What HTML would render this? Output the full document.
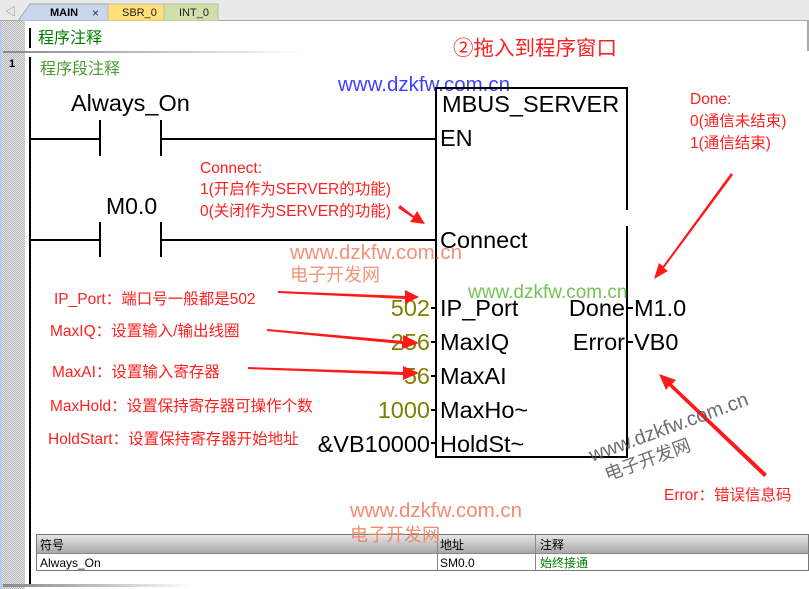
<!DOCTYPE html>
<html><head><meta charset="utf-8"><style>
html,body{margin:0;padding:0;background:#fff;}
svg{display:block;font-family:"Liberation Sans","Noto Sans CJK SC",sans-serif;}
</style></head><body>
<svg width="809" height="589" viewBox="0 0 809 589" xmlns="http://www.w3.org/2000/svg">
<defs>
<pattern id="hatch" width="2" height="2" patternUnits="userSpaceOnUse"><rect width="2" height="2" fill="#e4e4e4"/><rect width="1" height="1" fill="#b8b8b8"/><rect x="1" y="1" width="1" height="1" fill="#b8b8b8"/></pattern>
<linearGradient id="hdr" x1="0" y1="0" x2="0" y2="1"><stop offset="0" stop-color="#e8e8e8"/><stop offset="1" stop-color="#a8a8a8"/></linearGradient>
<linearGradient id="sep" x1="0" y1="0" x2="1" y2="0"><stop offset="0" stop-color="#888"/><stop offset="0.6" stop-color="#ccc"/><stop offset="1" stop-color="#fff"/></linearGradient>
</defs>
<rect x="0" y="0" width="809" height="21" fill="#e9e9e9"/>
<line x1="0" y1="20.5" x2="809" y2="20.5" stroke="#aaa"/>
<text x="5" y="15" font-size="11" fill="#888">◁</text>
<path d="M18 21 L30 4 L108 4 L108 21 Z" fill="#c9d6ee" stroke="#9aa"/>
<rect x="108" y="4" width="56" height="17" fill="#ffe07a" stroke="#bba"/>
<rect x="164" y="4" width="54" height="17" fill="#cfe0a8" stroke="#bba"/>
<text x="50" y="16" font-size="11" font-weight="bold" fill="#000">MAIN</text>
<text x="92" y="17" font-size="12" fill="#333">×</text>
<text x="122" y="16" font-size="11" fill="#222">SBR_0</text>
<text x="179" y="16" font-size="11" fill="#222">INT_0</text>
<rect x="0" y="21" width="25" height="568" fill="url(#hatch)"/>
<rect x="0" y="21" width="2" height="568" fill="#b8c8e8"/>
<rect x="25" y="21" width="784" height="568" fill="#fff"/>
<rect x="807" y="21" width="2" height="30" fill="#aaa"/>
<rect x="29" y="28" width="2" height="20" fill="#000"/>
<text x="38" y="43" font-size="16" fill="#008000">程序注释</text>
<rect x="3" y="51" width="300" height="2" fill="url(#sep)"/>
<text x="9" y="67" font-size="11" font-weight="bold" fill="#000">1</text>
<rect x="29" y="57" width="2" height="528" fill="#000"/>
<text x="40" y="74" font-size="16" fill="#4a9a30">程序段注释</text>
<rect x="3" y="584" width="190" height="3" fill="url(#sep)"/>
<text x="453" y="55" font-size="20.5" fill="#ff2020">②拖入到程序窗口</text>
<text x="338" y="91" font-size="20.5" fill="#4040ff">www.dzkfw.com.cn</text>
<text x="71" y="111" font-size="23.5" fill="#000">Always_On</text>
<line x1="30" y1="139" x2="100" y2="139" stroke="#000" stroke-width="2"/>
<line x1="100" y1="120" x2="100" y2="156" stroke="#000" stroke-width="2"/>
<line x1="161" y1="120" x2="161" y2="156" stroke="#000" stroke-width="2"/>
<line x1="161" y1="139" x2="436" y2="139" stroke="#000" stroke-width="2"/>
<text x="106" y="214" font-size="23" fill="#000">M0.0</text>
<line x1="30" y1="240" x2="100" y2="240" stroke="#000" stroke-width="2"/>
<line x1="100" y1="222" x2="100" y2="257" stroke="#000" stroke-width="2"/>
<line x1="161" y1="222" x2="161" y2="257" stroke="#000" stroke-width="2"/>
<line x1="161" y1="240" x2="436" y2="240" stroke="#000" stroke-width="2"/>
<path d="M627 210 L627 88 L436 88 L436 457 L627 457 L627 226" fill="none" stroke="#000" stroke-width="2"/>
<g font-size="23.5" fill="#000">
<text x="442" y="112">MBUS_SERVER</text>
<text x="440" y="146">EN</text>
<text x="440" y="248">Connect</text>
<text x="440" y="316">IP_Port</text>
<text x="440" y="350">MaxIQ</text>
<text x="440" y="384">MaxAI</text>
<text x="440" y="418">MaxHo~</text>
<text x="440" y="452">HoldSt~</text>
<text x="625" y="316" text-anchor="end">Done</text>
<text x="625" y="350" text-anchor="end">Error</text>
<text x="634" y="316">M1.0</text>
<text x="634" y="350">VB0</text>
</g>
<g stroke="#000" stroke-width="2">
<line x1="431" y1="308" x2="436" y2="308"/><line x1="431" y1="342" x2="436" y2="342"/>
<line x1="431" y1="376" x2="436" y2="376"/><line x1="431" y1="410" x2="436" y2="410"/>
<line x1="431" y1="443" x2="436" y2="443"/>
<line x1="627" y1="308" x2="633" y2="308"/><line x1="627" y1="342" x2="633" y2="342"/>
</g>
<g font-size="23.5" fill="#808000" text-anchor="end">
<text x="430" y="316">502</text><text x="430" y="350">256</text><text x="430" y="384">56</text><text x="430" y="418">1000</text>
</g>
<text x="430" y="452" font-size="23.5" fill="#000" text-anchor="end">&amp;VB10000</text>
<g font-size="15.5" fill="#ff2020">
<text x="200" y="173">Connect:</text>
<text x="200" y="194">1(开启作为SERVER的功能)</text>
<text x="200" y="216">0(关闭作为SERVER的功能)</text>
<text x="54" y="304">IP_Port：端口号一般都是502</text>
<text x="50" y="336">MaxIQ：设置输入/输出线圈</text>
<text x="52" y="377">MaxAI：设置输入寄存器</text>
<text x="50" y="411">MaxHold：设置保持寄存器可操作个数</text>
<text x="48" y="444">HoldStart：设置保持寄存器开始地址</text>
<text x="690" y="104">Done:</text>
<text x="690" y="126">0(通信未结束)</text>
<text x="690" y="148">1(通信结束)</text>
<text x="664" y="500">Error：错误信息码</text>
</g>
<g fill="#ff1a1a">
<path d="M400 205 L414 216 L417 211 L425 224 L410 222 L413 218 L398 208 Z"/>
<path d="M278 291 L405 296 L405 290 L419 297 L405 304 L405 299 L278 293 Z"/>
<path d="M267 329 L403 341 L403 335 L419 343 L402 349 L402 344 L267 331 Z"/>
<path d="M248 367 L403 372 L403 366 L419 373 L403 380 L403 375 L248 369 Z"/>
<path d="M731 173 L663 266 L659 263 L654 279 L668 271 L664 268 L733 175 Z"/>
<path d="M767 474 L672 384 L676 380 L659 374 L666 390 L669 386 L764 477 Z"/>
</g>
<text x="290" y="259" font-size="20.5" fill="#f08060" opacity="0.85">www.dzkfw.com.cn</text>
<text x="290" y="281" font-size="18" fill="#f08060" opacity="0.85">电子开发网</text>
<text x="468" y="298" font-size="19" fill="#66bb44" opacity="0.9">www.dzkfw.com.cn</text>
<g transform="translate(592,462) rotate(-20)" fill="#555" opacity="0.85">
<text x="0" y="0" font-size="20">www.dzkfw.com.cn</text>
<text x="8" y="23" font-size="18">电子开发网</text>
</g>
<rect x="36" y="534" width="773" height="19" fill="url(#hdr)"/>
<rect x="36" y="553" width="773" height="17" fill="#fff"/>
<rect x="36.5" y="534.5" width="772" height="36" fill="none" stroke="#777"/>
<line x1="36" y1="553.5" x2="809" y2="553.5" stroke="#888"/>
<line x1="437.5" y1="534" x2="437.5" y2="570" stroke="#888"/>
<line x1="535.5" y1="534" x2="535.5" y2="570" stroke="#888"/>
<g font-size="12">
<text x="40" y="549" fill="#000">符号</text>
<text x="440" y="549" fill="#000">地址</text>
<text x="540" y="549" fill="#000">注释</text>
<text x="40" y="567" fill="#000">Always_On</text>
<text x="440" y="567" fill="#000">SM0.0</text>
<text x="540" y="567" fill="#008000">始终接通</text>
</g>
<text x="350" y="517" font-size="20.5" fill="#f08060" opacity="0.9">www.dzkfw.com.cn</text>
<text x="350" y="541" font-size="18" fill="#f08060" opacity="0.9">电子开发网</text>
</svg>
</body></html>
